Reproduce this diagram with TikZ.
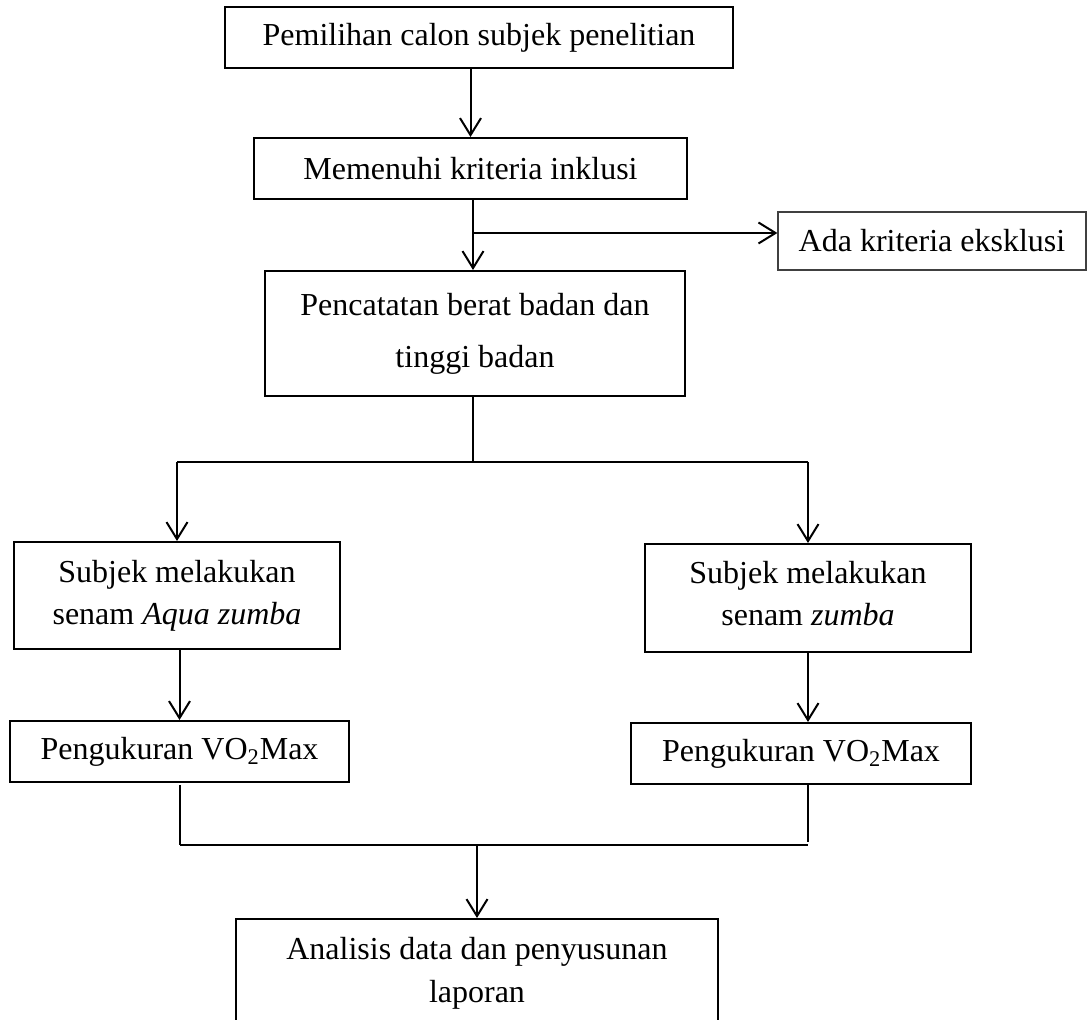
\documentclass[tikz,border=0pt]{standalone}
\usepackage{fontspec}
\setmainfont{Liberation Serif}
\usetikzlibrary{arrows.meta}
\begin{document}
\begin{tikzpicture}[x=0.5pt,y=-0.5pt,
  box/.style={draw=black, line width=1pt, inner sep=0pt, align=center, font=\fontsize{16}{21}\selectfont},
  thinbox/.style={box, draw=black!75, line width=0.6pt},
  arr/.style={line width=1pt, -{Straight Barb[length=8.5pt,width=10.5pt,line width=1pt]}},
  thickln/.style={line width=1pt},
  thinln/.style={line width=0.6pt}]
\useasboundingbox (0,0) rectangle (1088,1020);
\node[box, minimum width=254pt, minimum height=30.5pt] (b1) at (479,37.5) {Pemilihan calon subjek penelitian};
\node[box, minimum width=216.5pt, minimum height=30.5pt] (b2) at (470.5,168.5) {Memenuhi kriteria inklusi};
\node[thinbox, minimum width=154pt, minimum height=29pt] (b3) at (932,241) {Ada kriteria eksklusi};
\node[box, minimum width=210pt, minimum height=62.5pt, font=\fontsize{16}{26}\selectfont] (b4) at (475,333.5) {Pencatatan berat badan dan\\ tinggi badan};
\node[box, minimum width=163pt, minimum height=53.5pt] (b5) at (177,595.5) {Subjek melakukan\\ senam \textit{Aqua zumba}};
\node[box, minimum width=163pt, minimum height=54pt] (b6) at (808,598) {Subjek melakukan\\ senam \textit{zumba}\rule[-5pt]{0pt}{0pt}};
\node[box, minimum width=169.5pt, minimum height=30.5pt] (b7) at (179.5,751.5) {Pengukuran VO\textsubscript{2}Max};
\node[box, minimum width=170pt, minimum height=30.5pt] (b8) at (801,753.5) {Pengukuran VO\textsubscript{2}Max};
\node[box, minimum width=241pt, minimum height=55.5pt, font=\fontsize{16}{21.5}\selectfont] (b9) at (477,974.5) {Analisis data dan penyusunan\\ laporan\rule[-5pt]{0pt}{0pt}};
\coordinate (j1) at (473,233);
\coordinate (j2) at (473,462);
\coordinate (j3) at (477,845);
\coordinate (j4) at (808,842);
\coordinate (j5) at (180,785);
\draw[arr] (b2.north |- b1.south) -- (b2.north);
\draw[thickln] (b2.south -| j1) -- (j1);
\draw[arr] (j1) -- (b4.north -| j1);
\draw[arr] (j1) -- (b3.west |- j1);
\draw[thinln] (b4.south -| j2) -- (j2);
\draw[thickln] (b5.north |- j2) -- (b6.north |- j2);
\draw[arr] (b5.north |- j2) -- (b5.north);
\draw[arr] (b6.north |- j2) -- (b6.north);
\draw[arr] (b5.south -| b7.north) -- (b7.north);
\draw[arr] (b6.south) -- (b8.north -| b6.south);
\draw[thinln] (j5) -- (j5 |- j3);
\draw[thickln] (j5 |- j3) -- (j4 |- j3);
\draw[thinln] (b8.south -| j4) -- (j4);
\draw[arr] (j3) -- (b9.north);
\end{tikzpicture}
\end{document}
